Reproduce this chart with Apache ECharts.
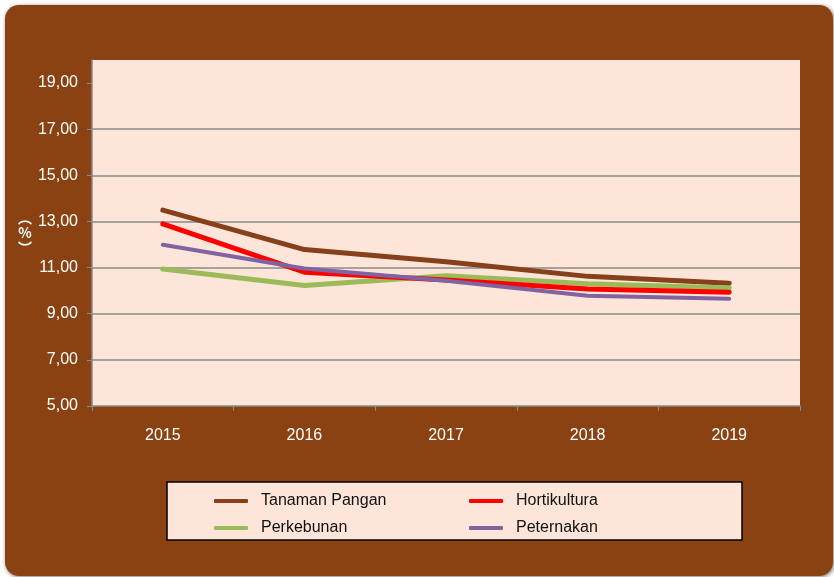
<!DOCTYPE html>
<html>
<head>
<meta charset="utf-8">
<script src="https://cdn.jsdelivr.net/npm/echarts@6/dist/echarts.min.js"></script>
<style>
  html, body { margin: 0; padding: 0; background: #ffffff; }
  #chart { width: 834px; height: 577px; }
</style>
</head>
<body>
<div id="chart"></div>
<script>
// 数据
const years = ['2015', '2016', '2017', '2018', '2019']
const tanamanPangan = [13.49, 11.78, 11.25, 10.62, 10.32]
const hortikultura = [12.9, 10.8, 10.46, 10.07, 9.93]
const perkebunan = [10.94, 10.22, 10.65, 10.3, 10.12]
const peternakan = [11.99, 10.96, 10.43, 9.78, 9.65]
const yTicks = [5, 7, 9, 11, 13, 15, 17, 19]

const font = '"Liberation Sans", Arial, sans-serif'
const brown = '#8B4213'
const plotBg = '#FDE5D9'
const gridGrey = '#8a8a8a'

const chart = echarts.init(document.getElementById('chart'))

const lineSeries = (name, data, color, width) => ({
    name: name,
    type: 'line',
    data: data,
    symbol: 'none',
    lineStyle: { color: color, width: width, cap: 'round', join: 'round' },
    itemStyle: { color: color }
})

// 图例公共样式
const legendCommon = {
    orient: 'vertical',
    icon: 'roundRect',
    itemWidth: 34,
    itemHeight: 4,
    itemGap: 11,
    textStyle: { fontFamily: font, fontSize: 16, color: '#111', padding: [0, 0, 0, 8] }
}

const option = {
    backgroundColor: 'transparent',
    animation: false,
    graphic: [
        {
            type: 'rect', z: -10, silent: true,
            shape: { x: 5, y: 5, width: 828, height: 571, r: 14 },
            style: { fill: brown, shadowBlur: 4, shadowColor: 'rgba(0,0,0,0.55)', shadowOffsetX: 1, shadowOffsetY: 1 }
        },
        {
            type: 'rect', z: -5, silent: true,
            shape: { x: 167, y: 482, width: 575, height: 58 },
            style: { fill: plotBg, stroke: '#000', lineWidth: 1.5 }
        }
    ],
    grid: {
        left: 92, right: 34, top: 60, bottom: 171,
        show: true, backgroundColor: plotBg, borderWidth: 0
    },
    legend: [
        Object.assign({ left: 209, top: 488, data: ['Tanaman Pangan', 'Perkebunan'] }, legendCommon),
        Object.assign({ left: 464, top: 488, data: ['Hortikultura', 'Peternakan'] }, legendCommon)
    ],
    xAxis: {
        type: 'category',
        data: years,
        boundaryGap: true,
        axisLine: { lineStyle: { color: gridGrey, width: 1.5 } },
        axisTick: { show: true, length: 5, lineStyle: { color: gridGrey } },
        axisLabel: { color: '#fff', fontFamily: font, fontSize: 16, margin: 22 }
    },
    yAxis: {
        type: 'value',
        min: 5,
        max: 20,
        interval: 2,
        name: '︵\n%\n︶',
        nameLocation: 'middle',
        nameRotate: 0,
        nameGap: 63,
        nameTextStyle: { color: '#fff', fontFamily: '"Noto Sans CJK SC", "Liberation Sans", sans-serif', fontSize: 14, lineHeight: 15, fontWeight: 'bold', align: 'center' },
        axisLine: { show: true, lineStyle: { color: gridGrey, width: 1.5 } },
        axisTick: { show: true, length: 5, customValues: yTicks, lineStyle: { color: gridGrey } },
        axisLabel: {
            color: '#fff', fontFamily: font, fontSize: 16, margin: 14,
            customValues: yTicks,
            formatter: v => v.toFixed(2).replace('.', ',')
        },
        splitLine: { show: true, showMaxLine: false, showMinLine: false, lineStyle: { color: gridGrey, width: 1.5 } }
    },
    series: [
        lineSeries('Tanaman Pangan', tanamanPangan, '#86401A', 5),
        lineSeries('Perkebunan', perkebunan, '#9BBB59', 5),
        lineSeries('Hortikultura', hortikultura, '#FF0000', 5),
        lineSeries('Peternakan', peternakan, '#8064A2', 4)
    ]
}

chart.setOption(option)
</script>
</body>
</html>
